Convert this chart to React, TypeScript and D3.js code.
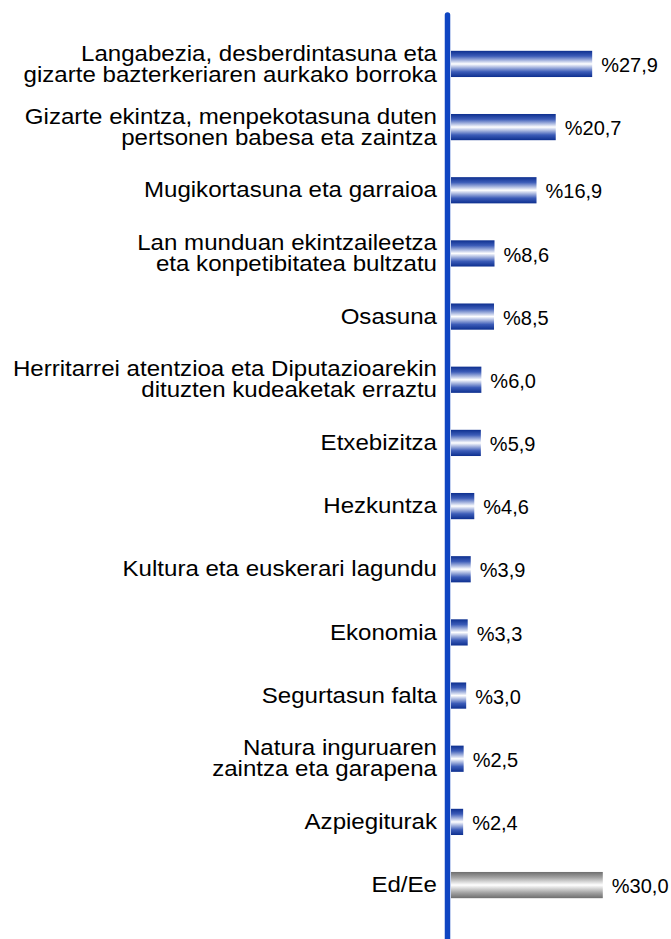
import React from "react";
import * as d3 from "d3";

const categories: string[][] = [
  ["Langabezia, desberdintasuna eta", "gizarte bazterkeriaren aurkako borroka"],
  ["Gizarte ekintza, menpekotasuna duten", "pertsonen babesa eta zaintza"],
  ["Mugikortasuna eta garraioa"],
  ["Lan munduan ekintzaileetza", "eta konpetibitatea bultzatu"],
  ["Osasuna"],
  ["Herritarrei atentzioa eta Diputazioarekin", "dituzten kudeaketak erraztu"],
  ["Etxebizitza"],
  ["Hezkuntza"],
  ["Kultura eta euskerari lagundu"],
  ["Ekonomia"],
  ["Segurtasun falta"],
  ["Natura inguruaren", "zaintza eta garapena"],
  ["Azpiegiturak"],
  ["Ed/Ee"],
];
const values: number[] = [27.9, 20.7, 16.9, 8.6, 8.5, 6.0, 5.9, 4.6, 3.9, 3.3, 3.0, 2.5, 2.4, 30.0];
const valueLabels: string[] = ["%27,9", "%20,7", "%16,9", "%8,6", "%8,5", "%6,0", "%5,9", "%4,6", "%3,9", "%3,3", "%3,0", "%2,5", "%2,4", "%30,0"];

const W = 671;
const H = 939;

export default function App() {
  const x0 = 451;
  const x = d3.scaleLinear().domain([0, 30]).range([x0, x0 + 151.8]);
  const y = d3
    .scaleBand<number>()
    .domain(d3.range(values.length))
    .range([32.5, 916.5])
    .paddingInner(0.585)
    .paddingOuter(0.29);
  const font = "'Liberation Sans', Arial, sans-serif";
  return (
    <svg
      width={W}
      height={H}
      style={{ position: "absolute", left: 0, top: 0, background: "#fff" }}
    >
      <defs>
        <linearGradient id="gBlue" x1="0" y1="0" x2="0" y2="1">
          <stop offset="0" stopColor="#0d2f8f" />
          <stop offset="0.2" stopColor="#3c5cb8" />
          <stop offset="0.5" stopColor="#ffffff" />
          <stop offset="0.8" stopColor="#3c5cb8" />
          <stop offset="1" stopColor="#0d2f8f" />
        </linearGradient>
        <linearGradient id="gGray" x1="0" y1="0" x2="0" y2="1">
          <stop offset="0" stopColor="#6e6e6e" />
          <stop offset="0.2" stopColor="#a0a0a0" />
          <stop offset="0.5" stopColor="#ffffff" />
          <stop offset="0.8" stopColor="#a0a0a0" />
          <stop offset="1" stopColor="#6e6e6e" />
        </linearGradient>
      </defs>
      {values.map((v, i) => {
        const yy = y(i)!;
        const bh = y.bandwidth();
        const cy = yy + bh / 2;
        const lines = categories[i];
        const lh = 21;
        return (
          <g key={i}>
            <rect
              x={x(0)}
              y={yy}
              width={x(v) - x(0)}
              height={bh}
              fill={i === values.length - 1 ? "url(#gGray)" : "url(#gBlue)"}
            />
            <text
              transform={`translate(${x(v) + 9},${cy + 1})`}
              dy="0.36em"
              fontFamily={font}
              fontSize={20}
              fill="#000"
            >
              {valueLabels[i]}
            </text>
            {lines.map((l, j) => (
              <text
                key={j}
                transform={`translate(437,${cy - 1 + (j - (lines.length - 1) / 2) * lh}) scale(1.07,1)`}
                dy="0.36em"
                textAnchor="end"
                fontFamily={font}
                fontSize={22.5}
                fill="#000"
              >
                {l}
              </text>
            ))}
          </g>
        );
      })}
      <line
        x1={447.5}
        x2={447.5}
        y1={15}
        y2={H + 5}
        stroke="#0f45c2"
        strokeWidth={5.5}
        strokeLinecap="round"
      />
    </svg>
  );
}
